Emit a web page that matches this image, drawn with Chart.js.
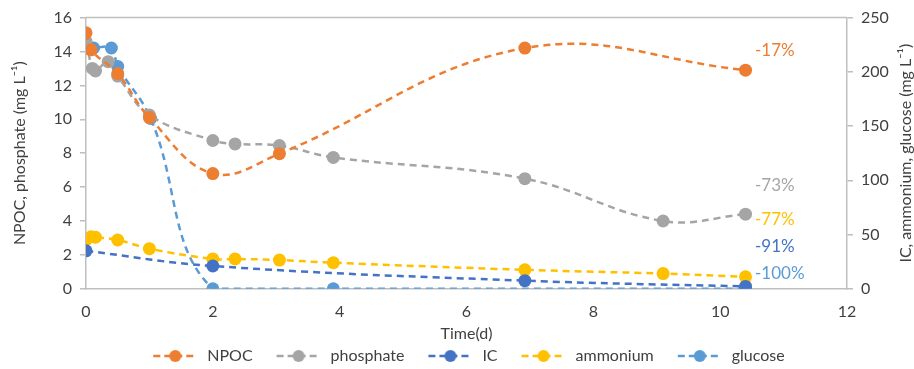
<!DOCTYPE html>
<html>
<head>
<meta charset="utf-8">
<script src="https://cdn.jsdelivr.net/npm/chart.js@4"></script>
<style>
  html, body { margin: 0; padding: 0; background: #fff; }
  #wrap { width: 914px; height: 369px; }
</style>
</head>
<body>
<div id="wrap"><canvas id="c"></canvas></div>
<script>
// --- data ---
const npocX = [0, 0.08, 0.5, 1.0, 2.0, 3.05, 6.92, 10.4];
const npocY = [15.1, 14.1, 12.7, 10.1, 6.8, 7.97, 14.2, 12.9];

const phosX = [0, 0.1, 0.15, 0.35, 0.5, 1.0, 2.0, 2.35, 3.05, 3.9, 6.92, 9.1, 10.4];
const phosY = [14.6, 13.0, 12.85, 13.4, 12.55, 10.25, 8.75, 8.55, 8.45, 7.75, 6.5, 4.0, 4.4];

const icX = [0, 2.0, 6.92, 10.4];
const icY = [35, 21, 7.5, 2.2];

const ammX = [0, 0.08, 0.15, 0.5, 1.0, 2.0, 2.35, 3.05, 3.9, 6.92, 9.1, 10.4];
const ammY = [45, 48, 47.5, 45, 37, 27.5, 27.5, 26.5, 24, 17.5, 14, 11];

const gluX = [0, 0.04, 0.08, 0.12, 0.4, 0.5, 1.02, 2.0, 3.9, 10.4];
const gluY = [222, 222, 222, 222, 222, 205, 157, 0, 0, 0];

const seriesNames = ['NPOC', 'phosphate', 'IC', 'ammonium', 'glucose'];
const seriesColors = ['#ED7D31', '#A5A5A5', '#4472C4', '#FFC000', '#5B9BD5'];

// percentage change labels at the right end (value on the right axis)
const changeLabels = ['-17%', '-73%', '-77%', '-91%', '-100%'];
const changeAt = [220, 95, 64, 39, 14];
const changeColors = ['#ED7D31', '#A5A5A5', '#FFC000', '#4472C4', '#5B9BD5'];

const FONT = 'Lato, "Open Sans", sans-serif';
const TXT = '#404040';

function pts(xs, ys) { return xs.map((x, i) => ({ x: x, y: ys[i] })); }

function makeSet(i, xs, ys, axis) {
  return {
    label: seriesNames[i],
    data: pts(xs, ys),
    yAxisID: axis,
    showLine: true,
    tension: 0.4,
    borderColor: seriesColors[i],
    backgroundColor: seriesColors[i],
    borderWidth: 2.5,
    borderDash: [7, 5],
    pointRadius: 6.5,
    pointHoverRadius: 6.5,
    pointBorderWidth: 0
  };
}

// legend icon: dashed line with a dot (blank margin on the left spaces the items)
function legendIcon(color) {
  const cv = document.createElement('canvas');
  cv.width = 70; cv.height = 14;
  const g = cv.getContext('2d');
  g.strokeStyle = color;
  g.lineWidth = 2.5;
  g.setLineDash([7, 4]);
  g.beginPath(); g.moveTo(24, 7); g.lineTo(68, 7); g.stroke();
  g.fillStyle = color;
  g.beginPath(); g.arc(46, 7, 6, 0, Math.PI * 2); g.fill();
  return cv;
}

const extras = {
  id: 'extras',
  afterDraw(chart) {
    const ctx = chart.ctx, a = chart.chartArea;
    ctx.save();
    // top frame line
    ctx.strokeStyle = '#BFBFBF';
    ctx.lineWidth = 1.5;
    ctx.beginPath(); ctx.moveTo(a.left, a.top); ctx.lineTo(a.right, a.top); ctx.stroke();
    // change labels
    ctx.font = '17px ' + FONT;
    ctx.textBaseline = 'middle';
    ctx.textAlign = 'left';
    const xs = chart.scales.x, y1 = chart.scales.y1;
    changeLabels.forEach((t, i) => {
      ctx.fillStyle = changeColors[i];
      ctx.fillText(t, xs.getPixelForValue(10.55), y1.getPixelForValue(changeAt[i]));
    });
    // right axis title, reading bottom to top
    ctx.fillStyle = TXT;
    ctx.font = '16px ' + FONT;
    ctx.translate(chart.width - 8, (a.top + a.bottom) / 2);
    ctx.rotate(-Math.PI / 2);
    ctx.textAlign = 'center';
    ctx.fillText('IC, ammonium, glucose (mg L\u207B\u00B9)', 0, 0);
    ctx.restore();
  }
};

new Chart(document.getElementById('c'), {
  type: 'scatter',
  data: {
    datasets: [
      makeSet(0, npocX, npocY, 'y'),
      makeSet(1, phosX, phosY, 'y'),
      makeSet(2, icX, icY, 'y1'),
      makeSet(3, ammX, ammY, 'y1'),
      makeSet(4, gluX, gluY, 'y1')
    ]
  },
  options: {
    responsive: true,
    maintainAspectRatio: false,
    animation: false,
    layout: { padding: { top: 10, right: 0, left: 0, bottom: -5 } },
    plugins: {
      tooltip: { enabled: false },
      legend: {
        position: 'bottom',
        labels: {
          usePointStyle: true,
          pointStyleWidth: 70,
          padding: 0,
          color: TXT,
          font: { family: FONT, size: 16 },
          generateLabels(chart) {
            return chart.data.datasets.map((d, i) => ({
              text: d.label,
              pointStyle: legendIcon(seriesColors[i]),
              fillStyle: seriesColors[i],
              strokeStyle: seriesColors[i],
              lineWidth: 0,
              hidden: false,
              datasetIndex: i,
              fontColor: TXT
            }));
          }
        }
      }
    },
    scales: {
      x: {
        type: 'linear',
        min: 0, max: 12,
        ticks: { stepSize: 2, color: TXT, font: { family: FONT, size: 16 }, padding: 5 },
        grid: { display: false },
        border: { color: '#BFBFBF', width: 1.5 },
        title: { display: true, text: 'Time(d)', color: TXT, font: { family: FONT, size: 16, lineHeight: 1.0 }, padding: { top: 0, bottom: 6 } }
      },
      y: {
        position: 'left',
        min: 0, max: 16,
        ticks: { stepSize: 2, color: TXT, font: { family: FONT, size: 16 }, padding: 8 },
        grid: { drawOnChartArea: false, drawTicks: true, tickLength: 6, color: '#BFBFBF', lineWidth: 1.5 },
        border: { color: '#BFBFBF', width: 1.5 },
        title: { display: true, text: 'NPOC, phosphate (mg L\u207B\u00B9)', color: TXT, font: { family: FONT, size: 16 }, padding: { top: 10, bottom: 0 } },
        afterFit(s) { s.width = 86; }
      },
      y1: {
        position: 'right',
        min: 0, max: 250,
        ticks: { stepSize: 50, color: TXT, font: { family: FONT, size: 16 }, padding: 8 },
        grid: { drawOnChartArea: false, drawTicks: true, tickLength: 6, color: '#BFBFBF', lineWidth: 1.5 },
        border: { color: '#BFBFBF', width: 1.5 },
        afterFit(s) { s.width = 67; }
      }
    }
  },
  plugins: [extras]
});
</script>
</body>
</html>
